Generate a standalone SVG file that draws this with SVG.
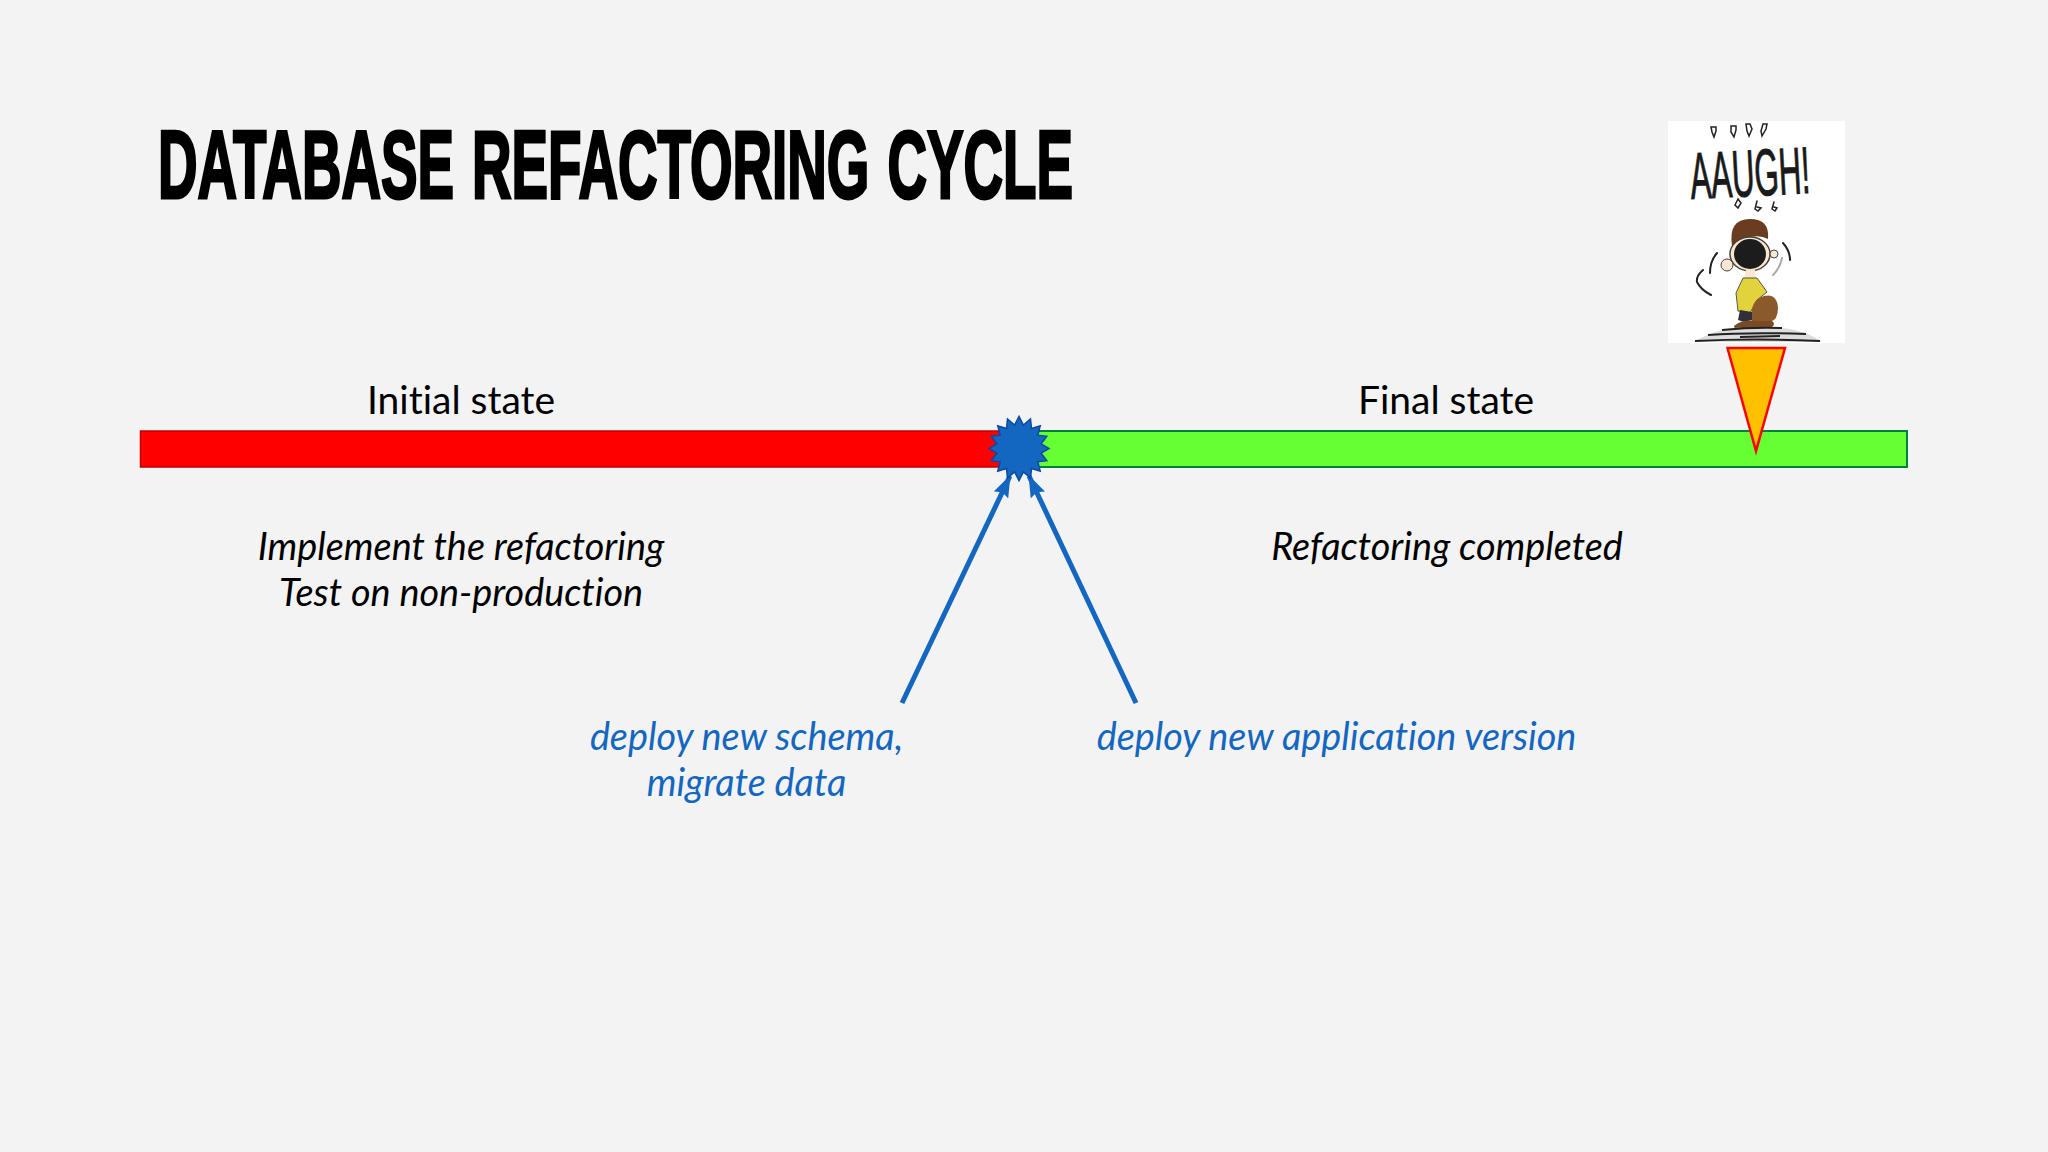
<svg xmlns="http://www.w3.org/2000/svg" width="2048" height="1152" viewBox="0 0 2048 1152">
<defs>
<style>
.t{font-family:Lato,"Liberation Sans",sans-serif;font-size:39px;text-anchor:middle;fill:#000;font-variant-ligatures:none}
.i{font-style:italic;font-size:37.800px}
.b{fill:#1367c0}
.ink{fill:none;stroke:#222;stroke-linecap:round}
</style>
<marker id="ah" viewBox="0 0 22 16" refX="21" refY="8" markerWidth="22" markerHeight="16" markerUnits="userSpaceOnUse" orient="auto"><path d="M0 0L22 8L0 16L3 8Z" fill="#1367c0"/></marker>
</defs>
<rect width="2048" height="1152" fill="#f3f3f3"/>
<text x="158" y="198" font-family="'Liberation Sans',sans-serif" font-weight="700" font-size="96" stroke="#000" stroke-width="3" fill="#000" word-spacing="5" textLength="915" lengthAdjust="spacingAndGlyphs">DATABASE REFACTORING CYCLE</text>
<g id="picture">
<rect x="1668" y="121" width="177" height="222" fill="#fff"/>
<text x="1750" y="196" font-family="'Liberation Sans',sans-serif" font-size="66" text-anchor="middle" textLength="120" lengthAdjust="spacingAndGlyphs" fill="#1a1a1a" stroke="#1a1a1a" stroke-width="1" transform="rotate(-3 1750 175)">AAUGH!</text>
<g class="ink" stroke-width="1.500">
<path d="M1711 127l5 0 0 4-2 6-2-5zM1731 126l5 0 0 4-2 7-3-5zM1746 124l4 0 2 5-3 7-2-5zM1763 124l4 0-1 5-4 7-1-5z"/>
<path d="M1738 199l-3 6 3 3 3-5zM1757 201l-2 8 3 2 3-3-4-1M1774 202l-2 7 3 2 2-3-3-1"/>
</g>
<g class="ink" stroke-width="2" stroke="#555">
<path d="M1717 253q-7 8-7 20M1703 270q-7 6-6 12q4 8 14 13M1783 243q7 8 7 17"/>
<path d="M1782 258q-2 10-9 17" stroke="#aaa"/>
</g>
<path d="M1732 246q-4-27 18-27q20 0 18 20q-14-8-36 7z" fill="#6b3d20"/>
<ellipse cx="1750" cy="254" rx="20" ry="17" fill="#fbe6cf" stroke="#444" stroke-width="1.500"/>
<circle cx="1727" cy="265" r="6" fill="#fbe6cf" stroke="#444"/>
<circle cx="1774" cy="254" r="4" fill="#fbe6cf" stroke="#444"/>
<ellipse cx="1750" cy="254" rx="16" ry="15" fill="#1c1c1c"/>
<path d="M1746 270l9 0 1 8-12 0z" fill="#fbe6cf"/>
<path d="M1743 278l14 0 10 14-10 8-7 13-12-2-2-18z" fill="#e2d33c" stroke="#555"/>
<path d="M1752 318q-2-18 12-22q13-3 14 12q0 12-8 14l-18 0z" fill="#8a5a2b"/>
<path d="M1744 322l8-2 0-8-12-2-2 10z" fill="#30303a"/>
<path d="M1734 326q8-7 24-5l14 0q4 3 0 6l-30 2q-8 1-8-3z" fill="#7a4a25"/>
<path d="M1693 342q30-16 50-14l40 0q22 2 39 14z" fill="#ddd"/>
<path d="M1695 341q60-3 125 0M1708 335q40-3 98-1M1722 330q30-3 60-2M1740 337l40-1" fill="none" stroke="#222" stroke-width="2"/>
</g>
<g id="red-bar"><rect x="140.500" y="431" width="875" height="36" fill="#ff0000" stroke="#c00000" stroke-width="1.500"/></g>
<g id="green-bar"><rect x="1020" y="431" width="887" height="36" fill="#66ff33" stroke="#00803c" stroke-width="2"/></g>
<g id="pointer"><path d="M1727.500 348H1785L1756 451Z" fill="#ffc000" stroke="#ff0000" stroke-width="2.500"/></g>
<g id="connectors" fill="none" stroke="#1367c0" stroke-width="5">
<line x1="902" y1="703" x2="1010" y2="476" marker-end="url(#ah)"/>
<line x1="1136" y1="703" x2="1029" y2="476" marker-end="url(#ah)"/>
</g>
<g id="burst"><polygon transform="translate(1019 448.500)" fill="#1367c0" stroke="#0d47a1" stroke-width="1.500" points="30,0 22.1,4.7 27.8,12.2 18.8,13.3 21.2,22.6 12.5,20 11.5,29.6 4.4,23.5 0,32 -4.4,23.5 -11.5,29.6 -12.5,20 -21.2,22.6 -18.8,13.3 -27.8,12.2 -22.1,4.7 -30,0 -22.1,-4.7 -27.8,-12.2 -18.8,-13.3 -21.2,-22.6 -12.5,-20 -11.5,-29.6 -4.4,-23.5 0,-32 4.4,-23.5 11.5,-29.6 12.5,-20 21.2,-22.6 18.8,-13.3 27.8,-12.2 22.1,-4.7"/></g>
<g id="labels">
<text class="t" x="461" y="414">Initial state</text>
<text class="t" x="1446" y="414">Final state</text>
<text class="t i" x="461" y="560">Implement the refactoring</text>
<text class="t i" x="461" y="606">Test on non-production</text>
<text class="t i" x="1447" y="560">Refactoring completed</text>
<text class="t i b" x="746.500" y="750">deploy new schema,</text>
<text class="t i b" x="746.500" y="796">migrate data</text>
<text class="t i b" x="1336.500" y="750">deploy new application version</text>
</g>
</svg>
